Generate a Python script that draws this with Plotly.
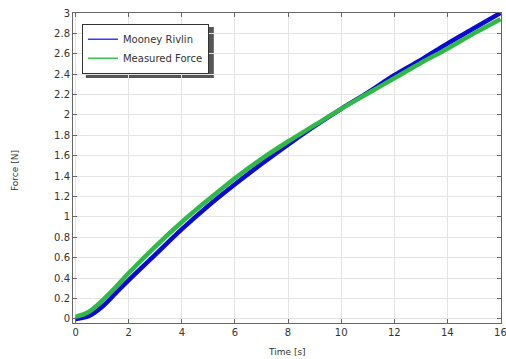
import plotly.graph_objects as go

time_s = [0, 0.5, 1, 1.5, 2, 3, 4, 5, 6, 7, 8, 9, 10, 11, 12, 13, 14, 15, 16]
mooney_rivlin = [0.0, 0.03, 0.12, 0.25, 0.38, 0.63, 0.88, 1.11, 1.32, 1.52, 1.71, 1.89, 2.06, 2.22, 2.39, 2.54, 2.70, 2.85, 3.0]
measured_force = [0.02, 0.07, 0.18, 0.31, 0.45, 0.71, 0.95, 1.17, 1.38, 1.57, 1.74, 1.90, 2.06, 2.21, 2.36, 2.51, 2.65, 2.80, 2.94]

x_ticks = list(range(0, 17, 2))
y_ticks = [round(0.2 * i, 1) for i in range(16)]
y_tick_text = [("%g" % v) for v in y_ticks]

BLUE = "#0a0ad0"
GREEN = "#30b848"

fig = go.Figure()
fig.add_trace(go.Scatter(x=time_s, y=mooney_rivlin, mode="lines", line=dict(color=BLUE, width=4.5, shape="spline"), showlegend=False))
fig.add_trace(go.Scatter(x=time_s, y=measured_force, mode="lines", line=dict(color=GREEN, width=4.5, shape="spline"), showlegend=False))
# legend entries with thin lines
fig.add_trace(go.Scatter(x=[None], y=[None], mode="lines", name="Mooney Rivlin", line=dict(color="#3a3aff", width=1.5)))
fig.add_trace(go.Scatter(x=[None], y=[None], mode="lines", name="Measured Force", line=dict(color="#3cc04c", width=1.5)))

axis_common = dict(
    showline=True, linecolor="#666666", linewidth=1, mirror="ticks",
    ticks="inside", ticklen=4, tickcolor="#666666",
    showgrid=True, gridcolor="#e4e4e4", gridwidth=1, zeroline=False,
    tickfont=dict(family="DejaVu Sans", size=10, color="#333333"),
    automargin=False, ticklabeloverflow="allow",
)

fig.update_layout(
    width=506, height=359,
    margin=dict(l=73, r=5, t=13, b=36),
    paper_bgcolor="white", plot_bgcolor="white",
    font=dict(family="DejaVu Sans", size=10, color="#333333"),
    xaxis=dict(range=[-0.1, 16.02], tickvals=x_ticks, **axis_common),
    yaxis=dict(range=[-0.04, 3.0], tickvals=y_ticks, ticktext=y_tick_text, **axis_common),
    legend=dict(x=0.021, y=0.965, xanchor="left", yanchor="top", bgcolor="white",
                bordercolor="#333333", borderwidth=1, font=dict(size=10, color="#333333"),
                itemwidth=30, tracegroupgap=0),
    shapes=[dict(type="rect", xref="paper", yref="paper", x0=0.03, x1=0.329, y0=0.79, y1=0.955,
                 fillcolor="#555555", line=dict(width=0), layer="below")],
    annotations=[
        dict(text="Time [s]", xref="paper", yref="paper", x=(287 - 73) / 428, y=(323 - 352) / 310,
             xanchor="center", yanchor="middle", showarrow=False, font=dict(size=9, color="#333333")),
        dict(text="Force [N]", xref="paper", yref="paper", x=(15 - 73) / 428, y=(323 - 171) / 310,
             xanchor="center", yanchor="middle", textangle=-90, showarrow=False, font=dict(size=9, color="#333333")),
    ],
)

fig.write_html("out.html", config={"displayModeBar": False}, post_script="document.body.style.margin='0';")
